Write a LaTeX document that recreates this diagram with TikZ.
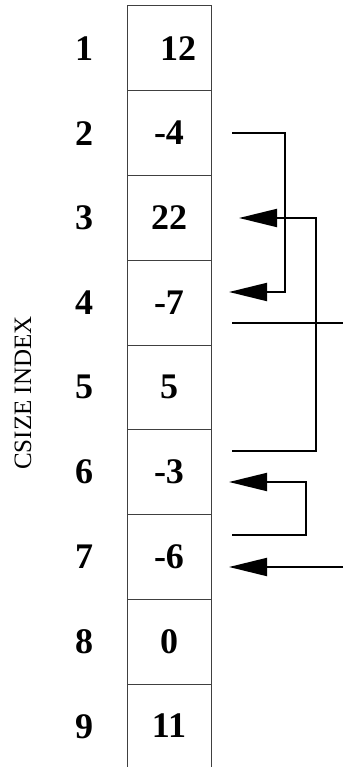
\documentclass[tikz,border=0pt]{standalone}
\usepackage{fontspec}
\setmainfont{Liberation Serif}
\usetikzlibrary{arrows.meta}
\begin{document}
\begin{tikzpicture}[x=1pt,y=-1pt,
  cellbox/.style={draw=black!75,line width=1pt,minimum width=84pt,minimum height=84.75pt,inner sep=0pt,outer sep=0pt},
  openbox/.style={minimum width=84pt,minimum height=83pt,inner sep=0pt,outer sep=0pt},
  colline/.style={draw=black!75,line width=1pt},
  val/.style={font=\fontsize{36}{36}\selectfont\bfseries,inner sep=0pt},
  idx/.style={font=\fontsize{36}{36}\selectfont\bfseries,inner sep=0pt},
  axislabel/.style={font=\fontsize{25}{25}\selectfont,inner sep=0pt,rotate=90},
  conn/.style={line width=2pt},
  arr/.style={conn,-{Triangle[length=38pt,width=18pt]}}]
\useasboundingbox (0,0) rectangle (343,767);
% cells
\foreach \i in {1,...,8}{
  \node[cellbox] (c\i) at (169,{6+84.75*(\i-0.5)}) {};
}
\node[openbox] (c9) at (169,725.5) {};
\draw[colline] (c9.north west) -- (c9.south west);
\draw[colline] (c9.north east) -- (c9.south east);
% values
\node[val] (v1) at ([xshift=9pt]c1.center) {12};
\node[val] (v2) at (c2.center) {-4};
\node[val] (v3) at (c3.center) {22};
\node[val] (v4) at (c4.center) {-7};
\node[val] (v5) at (c5.center) {5};
\node[val] (v6) at (c6.center) {-3};
\node[val] (v7) at (c7.center) {-6};
\node[val] (v8) at (c8.center) {0};
\node[val] (v9) at (c9.center) {11};
% indices
\foreach \i in {1,...,9}{
  \node[idx] (i\i) at (84,{6+84.75*(\i-0.5)}) {\i};
}
\node[axislabel] (lab) at (23,393) {CSIZE INDEX};
% connector points
\coordinate (a1s) at (232,133);
\coordinate (a1t) at (229,292);
\coordinate (a2s) at (232,451);
\coordinate (a2t) at (239,218);
\coordinate (l3s) at (232,323);
\coordinate (l3e) at (343,323);
\coordinate (a4s) at (232,535);
\coordinate (a4t) at (229,482);
\coordinate (a5s) at (343,567);
\coordinate (a5t) at (229,567);
% connectors
\draw[arr] (a1s) -- (285,133) -- (285,292) -- (a1t);
\draw[arr] (a2s) -- (316,451) -- (316,218) -- (a2t);
\draw[conn] (l3s) -- (l3e);
\draw[arr] (a4s) -- (306,535) -- (306,482) -- (a4t);
\draw[arr] (a5s) -- (a5t);
\end{tikzpicture}
\end{document}
